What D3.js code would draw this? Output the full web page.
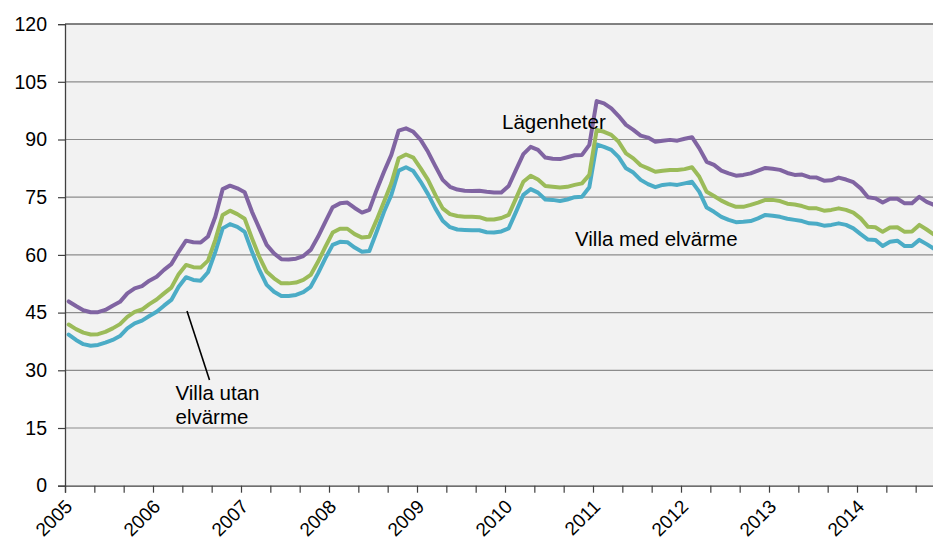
<!DOCTYPE html>
<html>
<head>
<meta charset="utf-8">
<script src="https://cdn.jsdelivr.net/npm/d3@7"></script>
<style>
  html, body { margin: 0; padding: 0; background: #ffffff; }
  svg { display: block; }
  text { font-family: "Liberation Sans", Arial, sans-serif; fill: #000; }
</style>
</head>
<body>
<svg id="chart" width="933" height="545"></svg>
<script>
// ---- Data (monthly, Jan 2005 – Dec 2014), öre/kWh ----
const years = ["2005","2006","2007","2008","2009","2010","2011","2012","2013","2014"];
const yTicks = [0, 15, 30, 45, 60, 75, 90, 105, 120];

const lagenheter = [
  47.9, 46.7, 45.6, 45.1, 45.1, 45.7, 46.8, 47.8, 50.0, 51.3, 51.9, 53.3,
  54.3, 56.1, 57.6, 60.8, 63.7, 63.3, 63.2, 64.8, 69.9, 77.1, 78.0, 77.3,
  76.3, 71.2, 66.9, 62.6, 60.4, 58.9, 58.8, 59.0, 59.7, 61.3, 64.7, 68.6,
  72.4, 73.4, 73.6, 72.2, 71.0, 71.7, 76.9, 81.6, 86.0, 92.3, 92.9, 92.0,
  89.9, 86.8, 83.1, 79.5, 77.7, 77.0, 76.7, 76.6, 76.7, 76.4, 76.2, 76.2,
  77.9, 82.1, 86.2, 88.1, 87.3, 85.3, 85.0, 84.9, 85.4, 85.9, 86.0, 88.6,
  100.0, 99.4, 98.1, 96.1, 93.8, 92.5, 91.0, 90.5, 89.4, 89.7, 89.9, 89.7,
  90.2, 90.6, 87.7, 84.2, 83.4, 81.9, 81.2, 80.6, 80.8, 81.2, 81.9, 82.6,
  82.4, 82.1, 81.3, 80.8, 80.9, 80.2, 80.1, 79.3, 79.4, 80.1, 79.6, 78.9,
  77.3, 75.0, 74.7, 73.6, 74.6, 74.6, 73.4, 73.4, 75.1, 73.8, 73.0, 72.6
];
const villaUtanElvarme = [
  41.9, 40.7, 39.8, 39.3, 39.4, 40.0, 40.9, 42.0, 43.9, 45.2, 45.8, 47.2,
  48.4, 50.0, 51.5, 55.0, 57.4, 56.8, 56.7, 58.5, 63.9, 70.4, 71.5, 70.6,
  69.4, 64.3, 59.5, 55.6, 53.9, 52.6, 52.6, 52.8, 53.5, 54.8, 58.2, 62.1,
  65.8, 66.8, 66.8, 65.4, 64.5, 64.7, 69.1, 73.8, 78.6, 85.1, 86.1, 85.3,
  82.5, 79.5, 75.6, 72.1, 70.6, 70.1, 69.9, 69.9, 69.8, 69.2, 69.2, 69.6,
  70.4, 74.7, 79.0, 80.6, 79.6, 77.9, 77.7, 77.5, 77.7, 78.2, 78.6, 80.8,
  92.5, 92.0, 91.2, 89.4, 86.4, 85.1, 83.3, 82.5, 81.6, 81.9, 82.1, 82.1,
  82.3, 82.8, 80.3, 76.4, 75.3, 74.1, 73.2, 72.5, 72.5, 73.0, 73.6, 74.3,
  74.3, 74.0, 73.3, 73.1, 72.7, 72.1, 72.1, 71.5, 71.7, 72.1, 71.7, 71.0,
  69.5, 67.3, 67.2, 66.0, 67.1, 67.2, 66.0, 66.1, 67.8, 66.6, 65.3, 65.0
];
const villaMedElvarme = [
  39.3, 37.9, 36.8, 36.4, 36.6, 37.2, 37.9, 38.9, 40.9, 42.2, 42.9, 44.1,
  45.2, 46.8, 48.3, 51.7, 54.2, 53.5, 53.3, 55.5, 60.8, 66.9, 68.0, 67.3,
  66.0, 60.8, 56.1, 52.2, 50.4, 49.3, 49.3, 49.6, 50.3, 51.7, 55.2, 59.1,
  62.6, 63.4, 63.3, 61.9, 60.8, 61.0, 66.0, 71.2, 75.6, 81.9, 82.8, 81.8,
  79.0, 75.8, 72.1, 68.9, 67.2, 66.6, 66.5, 66.4, 66.4, 65.9, 65.8, 66.1,
  66.9, 71.2, 75.6, 77.1, 76.2, 74.4, 74.3, 74.0, 74.4, 75.0, 75.1, 77.6,
  88.7, 88.1, 87.3, 85.4, 82.5, 81.4, 79.5, 78.4, 77.6, 78.2, 78.4, 78.2,
  78.6, 79.0, 76.4, 72.3, 71.2, 69.9, 69.1, 68.5, 68.6, 68.8, 69.5, 70.4,
  70.2, 69.9, 69.4, 69.1, 68.8, 68.2, 68.1, 67.6, 67.8, 68.2, 67.8, 66.9,
  65.4, 64.0, 63.9, 62.3, 63.4, 63.7, 62.3, 62.3, 63.9, 62.8, 61.6, 61.0
];

const seriesColors = { lagenheter: "#8064A2", villaUtanElvarme: "#9BBB59", villaMedElvarme: "#4BACC6" };

// ---- Layout ----
const svg = d3.select("#chart");
const plotLeft = 65, plotTop = 24.1, plotBottom = 485.7;
const nCats = years.length * 12;
const catWidth = 88 / 12;
const plotRight = plotLeft + nCats * catWidth;

const x = d3.scaleLinear().domain([0, nCats]).range([plotLeft, plotRight]);
const y = d3.scaleLinear().domain([0, 120]).range([plotBottom, plotTop]);

// plot area background
svg.append("rect")
  .attr("x", plotLeft).attr("y", plotTop)
  .attr("width", plotRight - plotLeft).attr("height", plotBottom - plotTop)
  .attr("fill", "#F2F2F2");

// gridlines
svg.append("g").selectAll("line")
  .data(yTicks.filter(d => d > 0))
  .join("line")
  .attr("x1", plotLeft).attr("x2", plotRight)
  .attr("y1", d => y(d)).attr("y2", d => y(d))
  .attr("stroke", d => d === 120 ? "#595959" : "#8C8C8C")
  .attr("stroke-width", d => d === 120 ? 1.5 : 1.2);

// Lines
const line = d3.line()
  .x((d, i) => x(i + 0.5))
  .y(d => y(d));

const series = [
  { key: "villaMedElvarme", values: villaMedElvarme },
  { key: "villaUtanElvarme", values: villaUtanElvarme },
  { key: "lagenheter", values: lagenheter }
];
svg.append("g").selectAll("path")
  .data(series)
  .join("path")
  .attr("d", d => line(d.values))
  .attr("fill", "none")
  .attr("stroke", d => seriesColors[d.key])
  .attr("stroke-width", 4)
  .attr("stroke-linejoin", "round")
  .attr("stroke-linecap", "round");

// Y axis
const yAxis = d3.axisLeft(y).tickValues(yTicks).tickSize(7).tickPadding(11);
const gy = svg.append("g").attr("transform", `translate(${plotLeft},0)`).call(yAxis);
gy.select(".domain").attr("stroke", "#404040").attr("stroke-width", 1.3);
gy.selectAll(".tick line").attr("stroke", "#404040").attr("stroke-width", 1.2);
gy.selectAll(".tick text")
  .style("font-family", '"Liberation Sans", Arial, sans-serif')
  .style("font-size", "19.5px").attr("fill", "#000");

// X axis
const xTickVals = d3.range(0, nCats + 1, 4);
const xAxis = d3.axisBottom(x).tickValues(xTickVals).tickSize(7)
  .tickFormat(d => d % 12 === 0 && d / 12 < years.length ? years[d / 12] : "");
const gx = svg.append("g").attr("transform", `translate(0,${plotBottom})`).call(xAxis);
gx.select(".domain").attr("stroke", "#404040").attr("stroke-width", 1.3);
gx.selectAll(".tick line").attr("stroke", "#404040").attr("stroke-width", 1.2);
gx.selectAll(".tick text")
  .style("font-family", '"Liberation Sans", Arial, sans-serif')
  .style("font-size", "19px").attr("fill", "#000")
  .attr("text-anchor", "end")
  .attr("dy", null)
  .attr("y", null)
  .attr("transform", "translate(8,22) rotate(-45)");

// Annotations
const ann = svg.append("g").style("font-size", "20.5px");
ann.append("text").attr("x", 502).attr("y", 128.5).text("Lägenheter");
ann.append("text").attr("x", 575).attr("y", 246).text("Villa med elvärme");
ann.append("text").attr("x", 175.5).attr("y", 399.5).text("Villa utan");
ann.append("text").attr("x", 175.5).attr("y", 423.5).text("elvärme");
svg.append("line")
  .attr("x1", 187).attr("y1", 311).attr("x2", 209.5).attr("y2", 380)
  .attr("stroke", "#000").attr("stroke-width", 1.6);
</script>
</body>
</html>
